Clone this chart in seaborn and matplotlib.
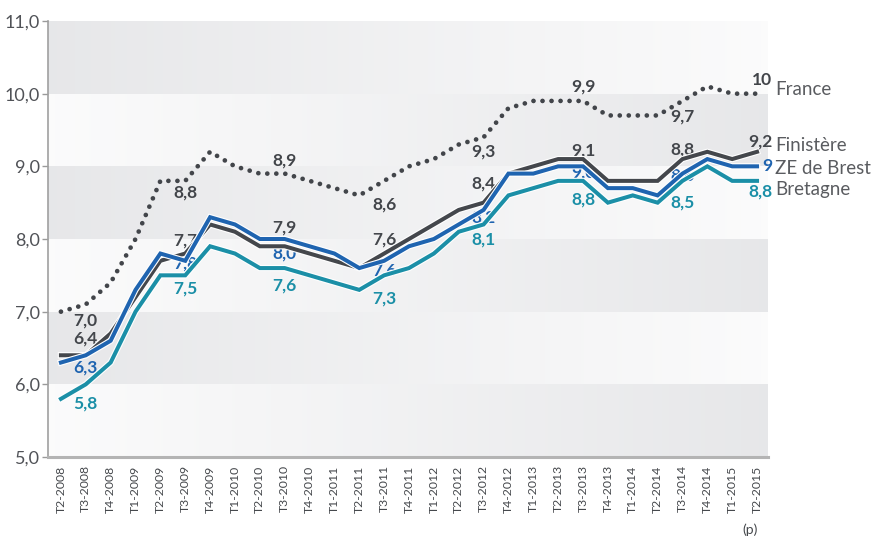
import numpy as np
import pandas as pd
import matplotlib
matplotlib.use("Agg")
import matplotlib.pyplot as plt
import matplotlib.patheffects as pe
import seaborn as sns

quarters = ["T2-2008", "T3-2008", "T4-2008", "T1-2009", "T2-2009", "T3-2009", "T4-2009",
            "T1-2010", "T2-2010", "T3-2010", "T4-2010", "T1-2011", "T2-2011", "T3-2011",
            "T4-2011", "T1-2012", "T2-2012", "T3-2012", "T4-2012", "T1-2013", "T2-2013",
            "T3-2013", "T4-2013", "T1-2014", "T2-2014", "T3-2014", "T4-2014", "T1-2015",
            "T2-2015"]

france = [7.0, 7.1, 7.4, 8.0, 8.8, 8.8, 9.2, 9.0, 8.9, 8.9, 8.8, 8.7, 8.6, 8.8, 9.0,
          9.1, 9.3, 9.4, 9.8, 9.9, 9.9, 9.9, 9.7, 9.7, 9.7, 9.9, 10.1, 10.0, 10.0]
finistere = [6.4, 6.4, 6.7, 7.2, 7.7, 7.8, 8.2, 8.1, 7.9, 7.9, 7.8, 7.7, 7.6, 7.8, 8.0,
             8.2, 8.4, 8.5, 8.9, 9.0, 9.1, 9.1, 8.8, 8.8, 8.8, 9.1, 9.2, 9.1, 9.2]
ze_brest = [6.3, 6.4, 6.6, 7.3, 7.8, 7.7, 8.3, 8.2, 8.0, 8.0, 7.9, 7.8, 7.6, 7.7, 7.9,
            8.0, 8.2, 8.4, 8.9, 8.9, 9.0, 9.0, 8.7, 8.7, 8.6, 8.9, 9.1, 9.0, 9.0]
bretagne = [5.8, 6.0, 6.3, 7.0, 7.5, 7.5, 7.9, 7.8, 7.6, 7.6, 7.5, 7.4, 7.3, 7.5, 7.6,
            7.8, 8.1, 8.2, 8.6, 8.7, 8.8, 8.8, 8.5, 8.6, 8.5, 8.8, 9.0, 8.8, 8.8]

series_names = ["France", "Finistère", "ZE de Brest", "Bretagne"]
label_idx = [0, 4, 8, 12, 16, 20, 24]
y_ticks = [5, 6, 7, 8, 9, 10, 11]

# ---- style ----
FONT = ["Lato", "DejaVu Sans"]
plt.rcParams["font.family"] = FONT
colors = {"France": "#42454a", "Finistère": "#44474c", "ZE de Brest": "#1f64b0",
          "Bretagne": "#1b8fa7"}
# label vertical offsets (pixels, up positive)
lab_dy = {"France": [-9, -12, 13, -9, -7, 14, -1],
          "Finistère": [17, 20, 19, 29, 26, 9, 31],
          "ZE de Brest": [-5, -10, -15, -2, 7, -6, 20],
          "Bretagne": [-5, -13, -17, -9, -8, -19, 0]}
end_dy = {"France": 14, "Finistère": 10, "ZE de Brest": 0, "Bretagne": -11}
name_dy = {"France": 4, "Finistère": 6, "ZE de Brest": -2, "Bretagne": -9}

W, H = 873, 537
fig = plt.figure(figsize=(W / 100, H / 100), dpi=100)
fig.patch.set_facecolor("white")
ax = fig.add_axes([48 / W, 80 / H, 720 / W, 436 / H])

n = len(quarters)
xl, xr = -0.52, n - 1 + 0.44

# background bands with opposite horizontal gradients
grey = np.array([0.905, 0.907, 0.915])
white = np.array([0.985, 0.985, 0.987])
t = np.linspace(0, 1, 400)[None, :, None]
gradA = grey + (white - grey) * t
gradB = white + (grey - white) * t
rows = []
for k in range(6):
    rows.append(gradA if k % 2 == 0 else gradB)
bg = np.concatenate(rows, axis=0)
ax.imshow(bg, extent=(xl, xr, 5, 11), aspect="auto", interpolation="nearest",
          origin="upper", zorder=0)

df = pd.DataFrame({"x": np.arange(n), "France": france, "Finistère": finistere,
                   "ZE de Brest": ze_brest, "Bretagne": bretagne})

lw = 2.9
for name in ["France", "Finistère", "ZE de Brest", "Bretagne"]:
    if name == "France":
        sns.lineplot(data=df, x="x", y=name, ax=ax, color=colors[name], linewidth=3.4,
                     linestyle=(0, (0.01, 1.9)), dash_capstyle="round", zorder=3)
    else:
        sns.lineplot(data=df, x="x", y=name, ax=ax, color=colors[name], linewidth=lw,
                     zorder=3, solid_joinstyle="miter",
                     path_effects=[pe.Stroke(linewidth=lw + 1.6, foreground="white"),
                                   pe.Normal()])

def fmt(v):
    return f"{v:.1f}".replace(".", ",")

def fmt_end(v):
    s = f"{v:g}"
    return s.replace(".", ",")

for name in series_names:
    vals = df[name].values
    for j, i in enumerate(label_idx):
        ax.annotate(fmt(vals[i]), xy=(i + 1, vals[i]), xytext=(0, lab_dy[name][j]),
                    textcoords="offset pixels", ha="center", va="center",
                    fontsize=12.5, fontweight="bold", color=colors[name], zorder=2.5)
    ax.annotate(fmt_end(vals[-1]), xy=(n - 1, vals[-1]), xytext=(15, end_dy[name]),
                textcoords="offset pixels", ha="right", va="center",
                fontsize=12.5, fontweight="bold", color=colors[name], zorder=4,
                annotation_clip=False)
    ax.annotate(name, xy=(n - 1, vals[-1]), xytext=(18, name_dy[name]),
                textcoords="offset pixels", ha="left", va="center",
                fontsize=13.5, color="#5a5c60", zorder=4, annotation_clip=False)

ax.set_xlim(xl, xr)
ax.set_ylim(5, 11)
ax.set_xticks(np.arange(n))
ax.set_xticklabels(quarters, rotation=90, fontsize=8.8, color="#45484c")
ax.set_yticks(y_ticks)
ax.set_yticklabels([f"{v:.1f}".replace(".", ",") for v in y_ticks], fontsize=13,
                   color="#505257")
ax.tick_params(axis="x", length=0, pad=6)
ax.tick_params(axis="y", length=4, width=1, color="#9a9a9a", pad=2)
ax.set_xlabel("")
ax.set_ylabel("")
for s in ["top", "right"]:
    ax.spines[s].set_visible(False)
ax.spines["left"].set_color("#a0a0a0")
ax.spines["left"].set_linewidth(1.2)
ax.spines["bottom"].set_color("#b4b4b4")
ax.spines["bottom"].set_linewidth(2.2)
ax.grid(False)

fig.text(750 / W, 1 - 530 / H, "(p)", fontsize=10, color="#45484c", ha="center",
         va="center")

fig.savefig("out.png", dpi=100, facecolor="white")
